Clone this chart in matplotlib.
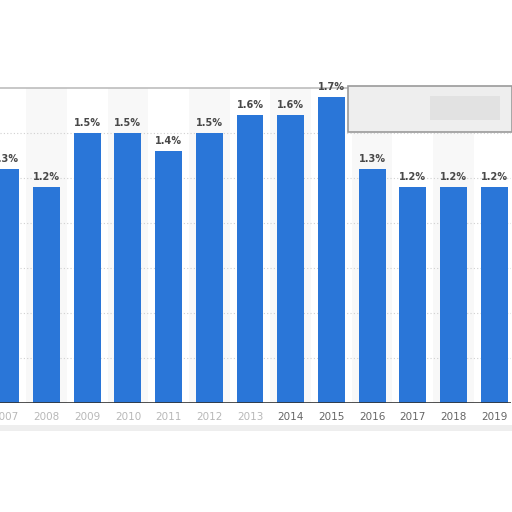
import matplotlib
matplotlib.use("Agg")
import matplotlib.pyplot as plt
from matplotlib.patches import Rectangle

years = ["2007", "2008", "2009", "2010", "2011", "2012", "2013",
         "2014", "2015", "2016", "2017", "2018", "2019"]
values = [1.3, 1.2, 1.5, 1.5, 1.4, 1.5, 1.6, 1.6, 1.7, 1.3, 1.2, 1.2, 1.2]
labels = ["1.3%", "1.2%", "1.5%", "1.5%", "1.4%", "1.5%", "1.6%",
          "1.6%", "1.7%", "1.3%", "1.2%", "1.2%", "1.2%"]
blurred = [True, True, True, True, True, True, True,
           False, False, False, False, False, False]

W = H = 512
fig = plt.figure(figsize=(5.12, 5.12), dpi=100)
fig.patch.set_facecolor("white")

ax_top, ax_bot = 88, 403
ax = fig.add_axes([0, (H - ax_bot) / H, 511 / W, (ax_bot - ax_top) / H])
ax.set_facecolor("white")

x = list(range(len(years)))
step = 40.7
xmin = -5.8 / step
xmax = xmin + 511 / step
ax.set_xlim(xmin, xmax)
ax.set_ylim(0, 1.75)

for i in x:
    if i % 2 == 1:
        ax.axvspan(i - 0.5, i + 0.5, color="#f8f8f8", zorder=0, lw=0)

for g in [0.25, 0.5, 0.75, 1.0, 1.25, 1.5]:
    ax.axhline(g, color="#d0d0d0", lw=0.8, ls=(0, (1, 2)), zorder=1)

ax.bar(x, values, width=0.66, color="#2a76d8", zorder=2)

for xi, v, lab in zip(x, values, labels):
    ax.text(xi, v + 0.028, lab, ha="center", va="bottom", fontsize=7,
            fontweight="bold", color="#484848", zorder=3)

ax.axhline(0, color="#333333", lw=1.2, zorder=3)

for s in ["left", "right", "bottom"]:
    ax.spines[s].set_visible(False)
ax.spines["top"].set_color("#bdbdbd")
ax.spines["top"].set_linewidth(1.2)
ax.set_yticks([])
ax.set_xticks(x)
ax.set_xticklabels([])
ax.tick_params(axis="x", length=0)

for xi, yr, b in zip(x, years, blurred):
    ax.text(xi, -0.05, yr, ha="center", va="top", fontsize=7.5,
            color="#b8b8b8" if b else "#666666", zorder=3, clip_on=False)

px2fx = lambda px: px / W
px2fy = lambda py: (H - py) / H
fig.patches.append(Rectangle((px2fx(348), px2fy(132)), px2fx(164), (132 - 86) / H,
                             transform=fig.transFigure, facecolor="#eeeeee",
                             edgecolor="#9a9a9a", lw=1.2, zorder=5))
fig.patches.append(Rectangle((px2fx(430), px2fy(120)), px2fx(70), 24 / H,
                             transform=fig.transFigure, facecolor="#dddddd",
                             edgecolor="none", zorder=6, alpha=0.7))

fig.patches.append(Rectangle((0, px2fy(431)), 1, 6 / H,
                             transform=fig.transFigure, facecolor="#e4e4e4",
                             edgecolor="none", zorder=0, alpha=0.6))

fig.savefig("out.png", dpi=100, facecolor="white")
